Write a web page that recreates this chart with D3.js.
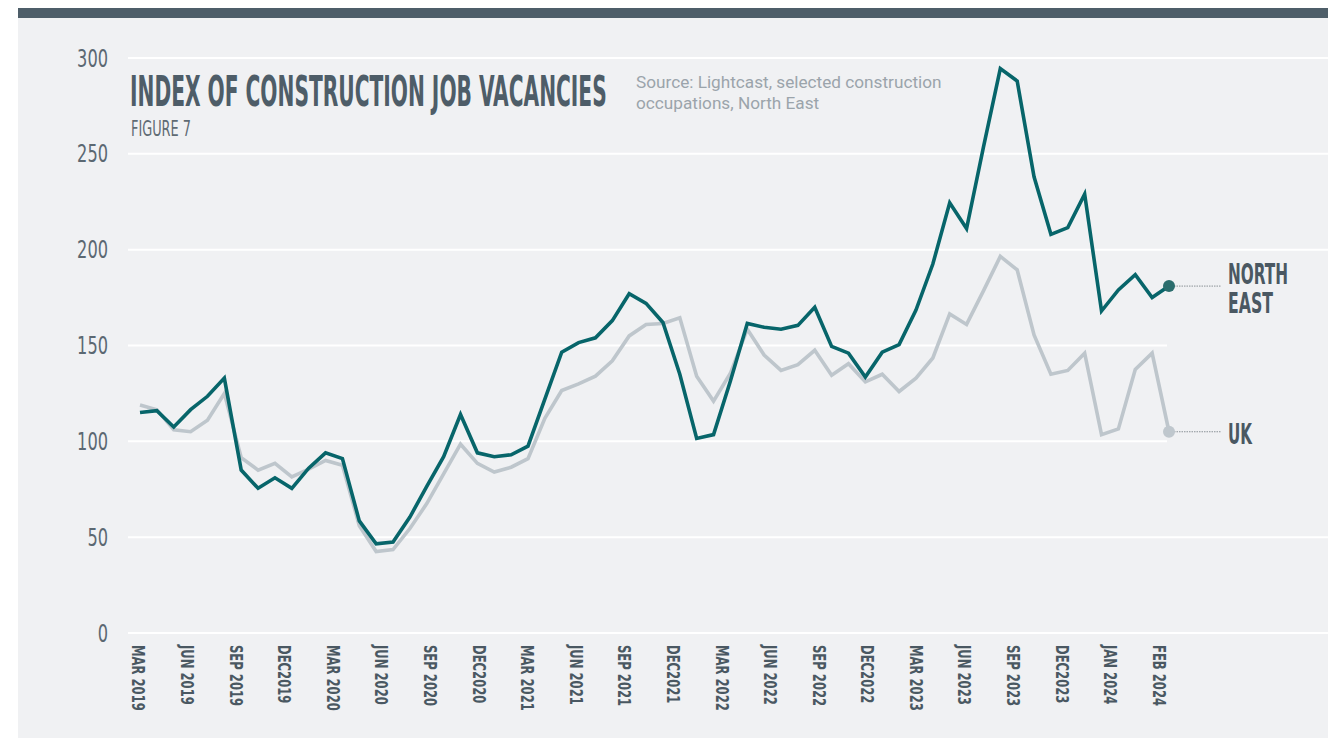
<!DOCTYPE html>
<html>
<head>
<meta charset="utf-8">
<script src="https://cdn.jsdelivr.net/npm/d3@7"></script>
<style>
  html, body { margin: 0; padding: 0; background: #ffffff; }
  svg { display: block; }
</style>
</head>
<body>
<svg id="chart" width="1328" height="738"></svg>
<script>
// ---- data ----
const northEast = [115, 116, 107.5, 116.5, 123.5, 133, 85, 75.5, 81, 75.5,
  86, 94, 91, 58.5, 46.5, 47.5, 60.5, 76.5, 92, 114,
  94, 92, 93, 97.5, 122, 146.5, 151.5, 154, 163, 177,
  172, 162, 135, 101.5, 103.5, 131.5, 161.5, 159.5, 158.5, 160.5,
  170, 149.5, 146, 133.5, 146.5, 150.5, 168.5, 192.5, 224.5, 211,
  253.5, 294.5, 288, 238, 208, 211.5, 229, 168, 179, 187,
  175, 181];
const uk = [119, 116.5, 106, 105, 111, 125, 91.5, 85, 88.5, 81.5,
  85.5, 90, 87.5, 56, 42.5, 43.5, 54.5, 67.5, 83, 98.5,
  88.5, 84, 86.5, 91, 112, 126.5, 130, 134, 142, 155,
  161, 161.5, 164.5, 134, 121, 135.5, 158.5, 145, 137, 140,
  147.5, 134.5, 140.5, 131, 135, 126, 133, 143.5, 166.5, 161,
  178.5, 196.5, 189.5, 155.5, 135, 137, 146, 103.5, 106.5, 137.5,
  146, 105];
const tickLabels = ["MAR 2019", "JUN 2019", "SEP 2019", "DEC2019", "MAR 2020", "JUN 2020",
  "SEP 2020", "DEC2020", "MAR 2021", "JUN 2021", "SEP 2021", "DEC2021", "MAR 2022",
  "JUN 2022", "SEP 2022", "DEC2022", "MAR 2023", "JUN 2023", "SEP 2023", "DEC2023",
  "JAN 2024", "FEB 2024"];
const yTicks = [0, 50, 100, 150, 200, 250, 300];
const seriesNames = ["NORTH EAST", "UK"];

// ---- drawing ----
const svg = d3.select("#chart");
const W = 1328, H = 738;
const condensed = "'Liberation Sans Narrow', 'DejaVu Sans Condensed', sans-serif";

svg.append("rect").attr("x", 18).attr("y", 18).attr("width", W - 18).attr("height", H - 18).attr("fill", "#f0f1f3");
svg.append("rect").attr("x", 18).attr("y", 8).attr("width", W - 18).attr("height", 10).attr("fill", "#4e5e69");

const idx = d3.range(northEast.length);
const x = d3.scalePoint().domain(idx).range([140, 1169]);
const xLab = d3.scalePoint().domain(tickLabels).range([138.5, 1159]);
const y = d3.scaleLinear().domain([0, 300]).range([633, 58]);

const lastX = x(idx[idx.length - 1]);

// helper: fit a text to a target width by horizontal scaling
function fitText(sel, px, py, target) {
  const w = sel.node().getComputedTextLength();
  sel.attr("x", 0).attr("y", 0)
     .attr("transform", `translate(${px},${py}) scale(${target / w},1)`);
}

// gridlines
svg.append("g").selectAll("line").data(yTicks).join("line")
  .attr("x1", 128)
  .attr("x2", d => (d === 100 || d === 150) ? lastX - 2 : W)
  .attr("y1", d => y(d)).attr("y2", d => y(d))
  .attr("stroke", "#ffffff").attr("stroke-width", 2);

// y labels
svg.append("g").selectAll("text").data(yTicks).join("text")
  .attr("transform", d => `translate(108,${y(d)}) scale(0.75,1)`)
  .attr("text-anchor", "end")
  .attr("dy", "0.36em")
  .attr("font-family", condensed)
  .attr("font-size", 24)
  .attr("fill", "#5b6872")
  .text(d => d);

// x labels (rotated)
svg.append("g").selectAll("text").data(tickLabels).join("text")
  .attr("transform", d => `translate(${xLab(d)},645) rotate(90) scale(0.76,1)`)
  .attr("dy", "0.36em")
  .attr("text-anchor", "start")
  .attr("font-family", condensed)
  .attr("font-weight", "bold")
  .attr("font-size", 17)
  .attr("fill", "#4a5862")
  .text(d => d);

// lines
const line = d3.line().x((d, i) => x(i)).y(d => y(d));
svg.append("path").datum(uk).attr("d", line)
  .attr("fill", "none").attr("stroke", "#bec6cc").attr("stroke-width", 3.6).attr("stroke-linejoin", "miter");
svg.append("path").datum(northEast).attr("d", line)
  .attr("fill", "none").attr("stroke", "#07656a").attr("stroke-width", 3.6).attr("stroke-linejoin", "miter");

// end markers, leaders and labels
const ends = [
  { name: seriesNames[0], v: northEast[northEast.length - 1], dot: "#2b6d6d", lines: ["NORTH", "EAST"], widths: [60, 45] },
  { name: seriesNames[1], v: uk[uk.length - 1], dot: "#bfc7cd", lines: ["UK"], widths: [24] }
];
ends.forEach(e => {
  const cy = y(e.v);
  svg.append("line").attr("x1", lastX + 5).attr("x2", 1221).attr("y1", cy).attr("y2", cy)
    .attr("stroke", "#8a9196").attr("stroke-width", 1).attr("stroke-dasharray", "1.5,1");
  svg.append("circle").attr("cx", lastX).attr("cy", cy).attr("r", 6).attr("fill", e.dot);
  const n = e.lines.length;
  e.lines.forEach((t, i) => {
    const tx = svg.append("text")
      .attr("font-family", condensed)
      .attr("font-weight", "bold").attr("font-size", 29)
      .attr("fill", "#4a5862").text(t);
    fitText(tx, 1228, cy + 12 - (n - 1) * 14.5 + i * 29, e.widths[i]);
  });
});

// title block
const title = svg.append("text")
  .attr("font-family", condensed)
  .attr("font-weight", "bold").attr("font-size", 42)
  .attr("fill", "#4e5d68").text("INDEX OF CONSTRUCTION JOB VACANCIES");
fitText(title, 130, 106, 477);
const fig = svg.append("text")
  .attr("font-family", condensed)
  .attr("font-size", 22)
  .attr("fill", "#5f6b74").text("FIGURE 7");
fitText(fig, 131, 136, 60);
const src = svg.append("text")
  .attr("font-family", "Roboto, 'Noto Sans', sans-serif")
  .attr("font-size", 17.2).attr("fill", "#9ba4ab");
src.append("tspan").attr("x", 636).attr("y", 88).text("Source: Lightcast, selected construction");
src.append("tspan").attr("x", 636).attr("y", 109).text("occupations, North East");
</script>
</body>
</html>
